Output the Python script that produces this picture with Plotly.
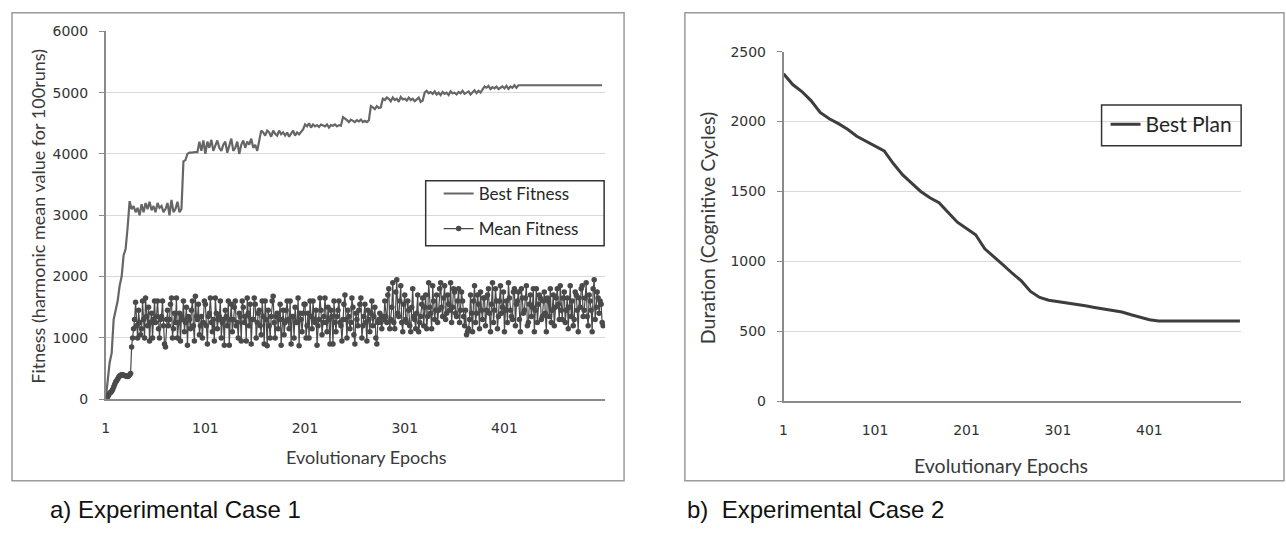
import plotly.graph_objects as go

# ---------------- data ----------------
# Experimental case 1
# best fitness sampled on odd epochs 1, 3, ..., 499
best_epochs = list(range(1, 501, 2))

best_fitness = [
    0, 350, 600, 750, 1300, 1450, 1600, 1850, 2000, 2350,
    2450, 2800, 3230, 3100, 3150, 3050, 3120, 3000, 3180, 3050,
    3200, 3100, 3220, 3080, 3150, 3050, 3200, 3120, 3150, 3050,
    3100, 3200, 3000, 3250, 3050, 3100, 3220, 3050, 3100, 3880,
    3900, 4000, 4020, 4020, 4030, 4030, 4030, 4200, 4050, 4220,
    4000, 4200, 4100, 4230, 4050, 4150, 4220, 4100, 4050, 4150,
    4200, 4020, 4150, 4250, 4050, 4100, 4200, 4000, 4150, 4220,
    4100, 4200, 4150, 4250, 4100, 4150, 4050, 4200, 4380, 4350,
    4300, 4380, 4350, 4280, 4380, 4330, 4300, 4380, 4320, 4350,
    4300, 4350, 4280, 4330, 4380, 4300, 4350, 4320, 4360, 4400,
    4480, 4450, 4500, 4430, 4480, 4450, 4470, 4440, 4480, 4460,
    4450, 4480, 4430, 4470, 4460, 4480, 4450, 4470, 4460, 4600,
    4580, 4550, 4520, 4560, 4540, 4520, 4550, 4530, 4560, 4520,
    4540, 4520, 4550, 4780, 4760, 4730, 4780, 4750, 4760, 4900,
    4880, 4920, 4900, 4860, 4920, 4880, 4900, 4850, 4930, 4890,
    4900, 4870, 4920, 4880, 4900, 4860, 4890, 4920, 4850, 4870,
    5000, 5030, 4990, 5010, 4980, 5020, 4970, 5000, 4960, 5010,
    4980, 5000, 4960, 5020, 4990, 5000, 4970, 5010, 4990, 5030,
    4980, 5000, 5020, 4970, 5010, 5040, 4990, 5030, 5000, 5050,
    5100, 5080, 5110, 5060, 5090, 5070, 5100, 5060, 5080, 5100,
    5070, 5110, 5060, 5100, 5080, 5120, 5080, 5120, 5120, 5120,
    5120, 5120, 5120, 5120, 5120, 5120, 5120, 5120, 5120, 5120,
    5120, 5120, 5120, 5120, 5120, 5120, 5120, 5120, 5120, 5120,
    5120, 5120, 5120, 5120, 5120, 5120, 5120, 5120, 5120, 5120,
    5120, 5120, 5120, 5120, 5120, 5120, 5120, 5120, 5120, 5120,
]

# mean fitness on odd epochs 1, 3, ..., 499
mean_fitness_odd = [
    0, 40, 100, 130, 200, 280, 330, 380, 400, 390,
    380, 370, 400, 850, 1150, 1580, 1000, 1250, 1150, 1300,
    1650, 1200, 950, 1400, 1300, 1250, 1600, 1000, 1350, 1200,
    850, 1450, 1300, 1650, 1150, 1250, 1000, 1400, 1350, 1600,
    1250, 880, 1300, 1450, 1200, 1680, 1300, 1050, 1350, 1250,
    1550, 900, 1400, 1250, 1300, 1650, 1150, 1350, 1000, 1300,
    1450, 1200, 880, 1550, 1300, 1600, 1250, 1400, 950, 1500,
    1350, 1650, 1200, 900, 1300, 1550, 1250, 1450, 1050, 1350,
    1600, 870, 1200, 1350, 1680, 1000, 1400, 1300, 880, 1450,
    1250, 1600, 1150, 900, 1350, 1500, 1250, 870, 1300, 1400,
    1550, 1200, 1000, 1350, 1600, 1250, 880, 1300, 1450, 1250,
    1650, 1100, 1300, 1450, 900, 1250, 1350, 1600, 1200, 1300,
    1700, 1000, 1350, 1250, 1500, 900, 1300, 1450, 1650, 1200,
    1550, 950, 1300, 1400, 1200, 1500, 900, 1300, 1250, 1350,
    1600, 1250, 1800, 1300, 1900, 1150, 1950, 1350, 1850, 1100,
    1700, 1250, 1450, 1100, 1800, 1300, 1400, 1100, 1350, 1650,
    1500, 1150, 1900, 1400, 1850, 1300, 1700, 1450, 1900, 1350,
    1850, 1400, 1550, 1900, 1500, 1750, 1350, 1800, 1450, 1600,
    1200, 1050, 1150, 1700, 1100, 1850, 1400, 1550, 1750, 1300,
    1650, 1450, 1800, 1100, 1900, 1450, 1600, 1350, 1850, 1500,
    1100, 1600, 1900, 1450, 1300, 1800, 1550, 1750, 1100, 1650,
    1450, 1850, 1250, 1700, 1500, 1100, 1800, 1550, 1650, 1350,
    1750, 1100, 1600, 1800, 1450, 1200, 1650, 1550, 1850, 1300,
    1750, 1450, 1150, 1850, 1600, 1300, 1700, 1100, 1500, 1850,
    1450, 1900, 1200, 1600, 1100, 1950, 1500, 1650, 1600, 1250,
]

# mean fitness on even epochs 2, 4, ..., 500
mean_fitness_even = [
    20, 70, 110, 160, 240, 300, 360, 390, 400, 385,
    375, 380, 420, 1000, 1300, 1200, 1450, 1050, 1600, 1000,
    1350, 1500, 1250, 1000, 1600, 1350, 1150, 1300, 1600, 900,
    1300, 1200, 1550, 1000, 1400, 1650, 1250, 950, 1300, 1100,
    1500, 1350, 1150, 1600, 950, 1350, 1550, 1200, 1000, 1600,
    1200, 1350, 1650, 1100, 950, 1400, 1300, 1600, 1250, 880,
    1350, 1600, 1300, 1100, 1500, 1200, 1000, 1350, 1600, 1250,
    950, 1400, 1550, 1300, 1650, 1000, 1400, 1200, 1600, 900,
    1300, 1450, 1000, 1600, 1250, 1350, 1150, 1550, 1300, 1050,
    1450, 1300, 1600, 1350, 1000, 1250, 1650, 1400, 1100, 1550,
    1000, 1400, 1600, 1150, 1300, 1450, 1200, 1650, 1050, 1350,
    1250, 1500, 900, 1350, 1600, 1100, 1450, 1250, 950, 1550,
    1300, 1450, 1150, 1650, 1050, 1400, 1200, 1550, 1000, 1350,
    1250, 1450, 1100, 1600, 1350, 1000, 1250, 1400, 1150, 1300,
    1350, 1700, 1150, 1500, 1250, 1750, 1400, 1600, 1250, 1550,
    1300, 1600, 1200, 1500, 1350, 1150, 1700, 1250, 1550, 1200,
    1700, 1350, 1500, 1150, 1600, 1450, 1250, 1800, 1500, 1650,
    1300, 1700, 1450, 1250, 1800, 1400, 1600, 1250, 1750, 1350,
    1450, 1100, 1300, 1400, 1600, 1250, 1700, 1150, 1450, 1650,
    1200, 1700, 1400, 1550, 1250, 1800, 1150, 1600, 1400, 1750,
    1450, 1250, 1650, 1350, 1750, 1200, 1600, 1300, 1800, 1400,
    1650, 1200, 1550, 1350, 1800, 1450, 1250, 1700, 1300, 1600,
    1400, 1650, 1350, 1250, 1700, 1500, 1800, 1300, 1450, 1650,
    1250, 1650, 1500, 1350, 1200, 1750, 1450, 1650, 1800, 1350,
    1650, 1350, 1700, 1450, 1800, 1300, 1750, 1400, 1550, 1200,
]

# Experimental case 2: duration of the best plan
plan_epochs = [1, 11, 21, 31, 41, 51, 61, 71, 81, 91,
               101, 111, 121, 131, 141, 151, 161, 171, 181, 191,
               201, 211, 221, 231, 241, 251, 261, 271, 281, 291,
               301, 311, 321, 331, 341, 351, 361, 371, 381, 391,
               401, 411, 421, 431, 441, 451, 461, 471, 481, 491, 500]
best_plan = [2342, 2265, 2215, 2150, 2065, 2020, 1985, 1945, 1895, 1862,
             1825, 1790, 1700, 1620, 1560, 1500, 1455, 1420, 1350, 1280,
             1235, 1190, 1090, 1035, 975, 915, 860, 785, 742, 722,
             712, 705, 696, 682, 670, 660, 652, 638, 618, 600,
             582, 573, 573, 573, 573, 573, 573, 573, 573, 573, 573]

x_tick_vals = [1, 101, 201, 301, 401]
x_tick_text = ["1", "101", "201", "301", "401"]

# merge odd/even samples into one per-epoch series
mean_epochs = []
mean_fitness = []
for k, (v_odd, v_even) in enumerate(zip(mean_fitness_odd, mean_fitness_even)):
    mean_epochs += [2 * k + 1, 2 * k + 2]
    mean_fitness += [v_odd, v_even]

# ---------------- layout helpers ----------------
W, H = 1286, 547


def px(x):
    return x / W


def py(y):
    return 1 - y / H


AXIS_GREY = "#8a8a8a"
GRID_GREY = "#d9d9d9"
TEXT_GREY = "#3a3a3a"
TICK_FONT = dict(family="DejaVu Sans", size=14, color="#333333")
TITLE_FONT = "Lato"

fig = go.Figure()

fig.add_trace(go.Scatter(
    x=best_epochs, y=best_fitness, name="Best Fitness", mode="lines",
    line=dict(color="#666666", width=2.2), xaxis="x", yaxis="y",
    legend="legend", legendgroup="g1",
))
fig.add_trace(go.Scatter(
    x=mean_epochs, y=mean_fitness, name="Mean Fitness", mode="lines+markers",
    line=dict(color="#4a4a4a", width=1.2),
    marker=dict(color="#4a4a4a", size=5.5), xaxis="x", yaxis="y",
    legend="legend", legendgroup="g2",
))
fig.add_trace(go.Scatter(
    x=plan_epochs, y=best_plan, name="Best Plan", mode="lines",
    line=dict(color="#3d3d3d", width=3), xaxis="x2", yaxis="y2",
    legend="legend2",
))

common_x = dict(
    tickvals=x_tick_vals, ticktext=x_tick_text, showgrid=False,
    showline=True, linecolor=AXIS_GREY, linewidth=1.5, ticks="",
    tickfont=TICK_FONT, ticklabelstandoff=15, zeroline=False,
)
common_y = dict(
    showgrid=True, gridcolor=GRID_GREY, gridwidth=1,
    showline=True, linecolor=AXIS_GREY, linewidth=1.5,
    ticks="outside", ticklen=5, tickcolor=AXIS_GREY, tickwidth=1.2,
    tickfont=TICK_FONT, ticklabelstandoff=8, zeroline=False,
)

fig.update_layout(
    width=W, height=H,
    margin=dict(l=0, r=0, t=0, b=0),
    paper_bgcolor="white", plot_bgcolor="white",
    xaxis=dict(domain=[px(102), px(603)], range=[1, 502], anchor="y",
               **common_x),
    yaxis=dict(domain=[py(403), py(24)], range=[0, 6000], dtick=1000,
               anchor="x", **common_y),
    xaxis2=dict(domain=[px(782), px(1241)], range=[1, 501.3], anchor="y2",
                **common_x),
    yaxis2=dict(domain=[py(405), py(45)], range=[0, 2500], dtick=500,
                anchor="x2", **common_y),
    legend=dict(
        x=px(436), y=py(173), xanchor="left", yanchor="top",
        bgcolor="rgba(0,0,0,0)", borderwidth=0, tracegroupgap=10,
        font=dict(family=TITLE_FONT, size=17, color="#262626"),
        itemwidth=30,
    ),
    legend2=dict(
        x=px(1105), y=py(99), xanchor="left", yanchor="top",
        bgcolor="rgba(0,0,0,0)", borderwidth=0,
        font=dict(family=TITLE_FONT, size=21, color="#262626"),
        itemwidth=30,
    ),
    showlegend=True,
)

# panel frames and legend boxes
shapes = [
    dict(type="rect", xref="paper", yref="paper",
         x0=px(8), x1=px(622), y0=py(487), y1=py(5),
         line=dict(color="#9a9a9a", width=1.5)),
    dict(type="rect", xref="paper", yref="paper",
         x0=px(683), x1=px(1284), y0=py(487), y1=py(5),
         line=dict(color="#9a9a9a", width=1.5)),
    dict(type="rect", xref="paper", yref="paper",
         x0=px(423), x1=px(602), y0=py(245), y1=py(178),
         line=dict(color="#333333", width=1.5)),
    dict(type="rect", xref="paper", yref="paper",
         x0=px(1101), x1=px(1241), y0=py(142), y1=py(100),
         line=dict(color="#333333", width=1.5)),
]
fig.update_layout(shapes=shapes)

annotations = [
    dict(text="Fitness (harmonic mean value for 100runs)", x=px(34), y=py(214),
         textangle=-90, font=dict(family=TITLE_FONT, size=18, color=TEXT_GREY)),
    dict(text="Evolutionary Epochs", x=px(364), y=py(463),
         font=dict(family=TITLE_FONT, size=18, color=TEXT_GREY)),
    dict(text="Duration (Cognitive Cycles)", x=px(706), y=py(227),
         textangle=-90, font=dict(family=TITLE_FONT, size=19.5, color=TEXT_GREY)),
    dict(text="Evolutionary Epochs", x=px(1000), y=py(471),
         font=dict(family=TITLE_FONT, size=19.5, color=TEXT_GREY)),
    dict(text="a) Experimental Case 1", x=px(44), y=py(517), xanchor="left",
         font=dict(family="Liberation Sans", size=24, color="#111111")),
    dict(text="b)\u00a0\u00a0Experimental Case 2", x=px(683), y=py(517),
         xanchor="left",
         font=dict(family="Liberation Sans", size=24, color="#111111")),
]
for a in annotations:
    a.setdefault("xanchor", "center")
    a.update(xref="paper", yref="paper", yanchor="middle", showarrow=False)
fig.update_layout(annotations=annotations)

fig.write_html("out.html")
